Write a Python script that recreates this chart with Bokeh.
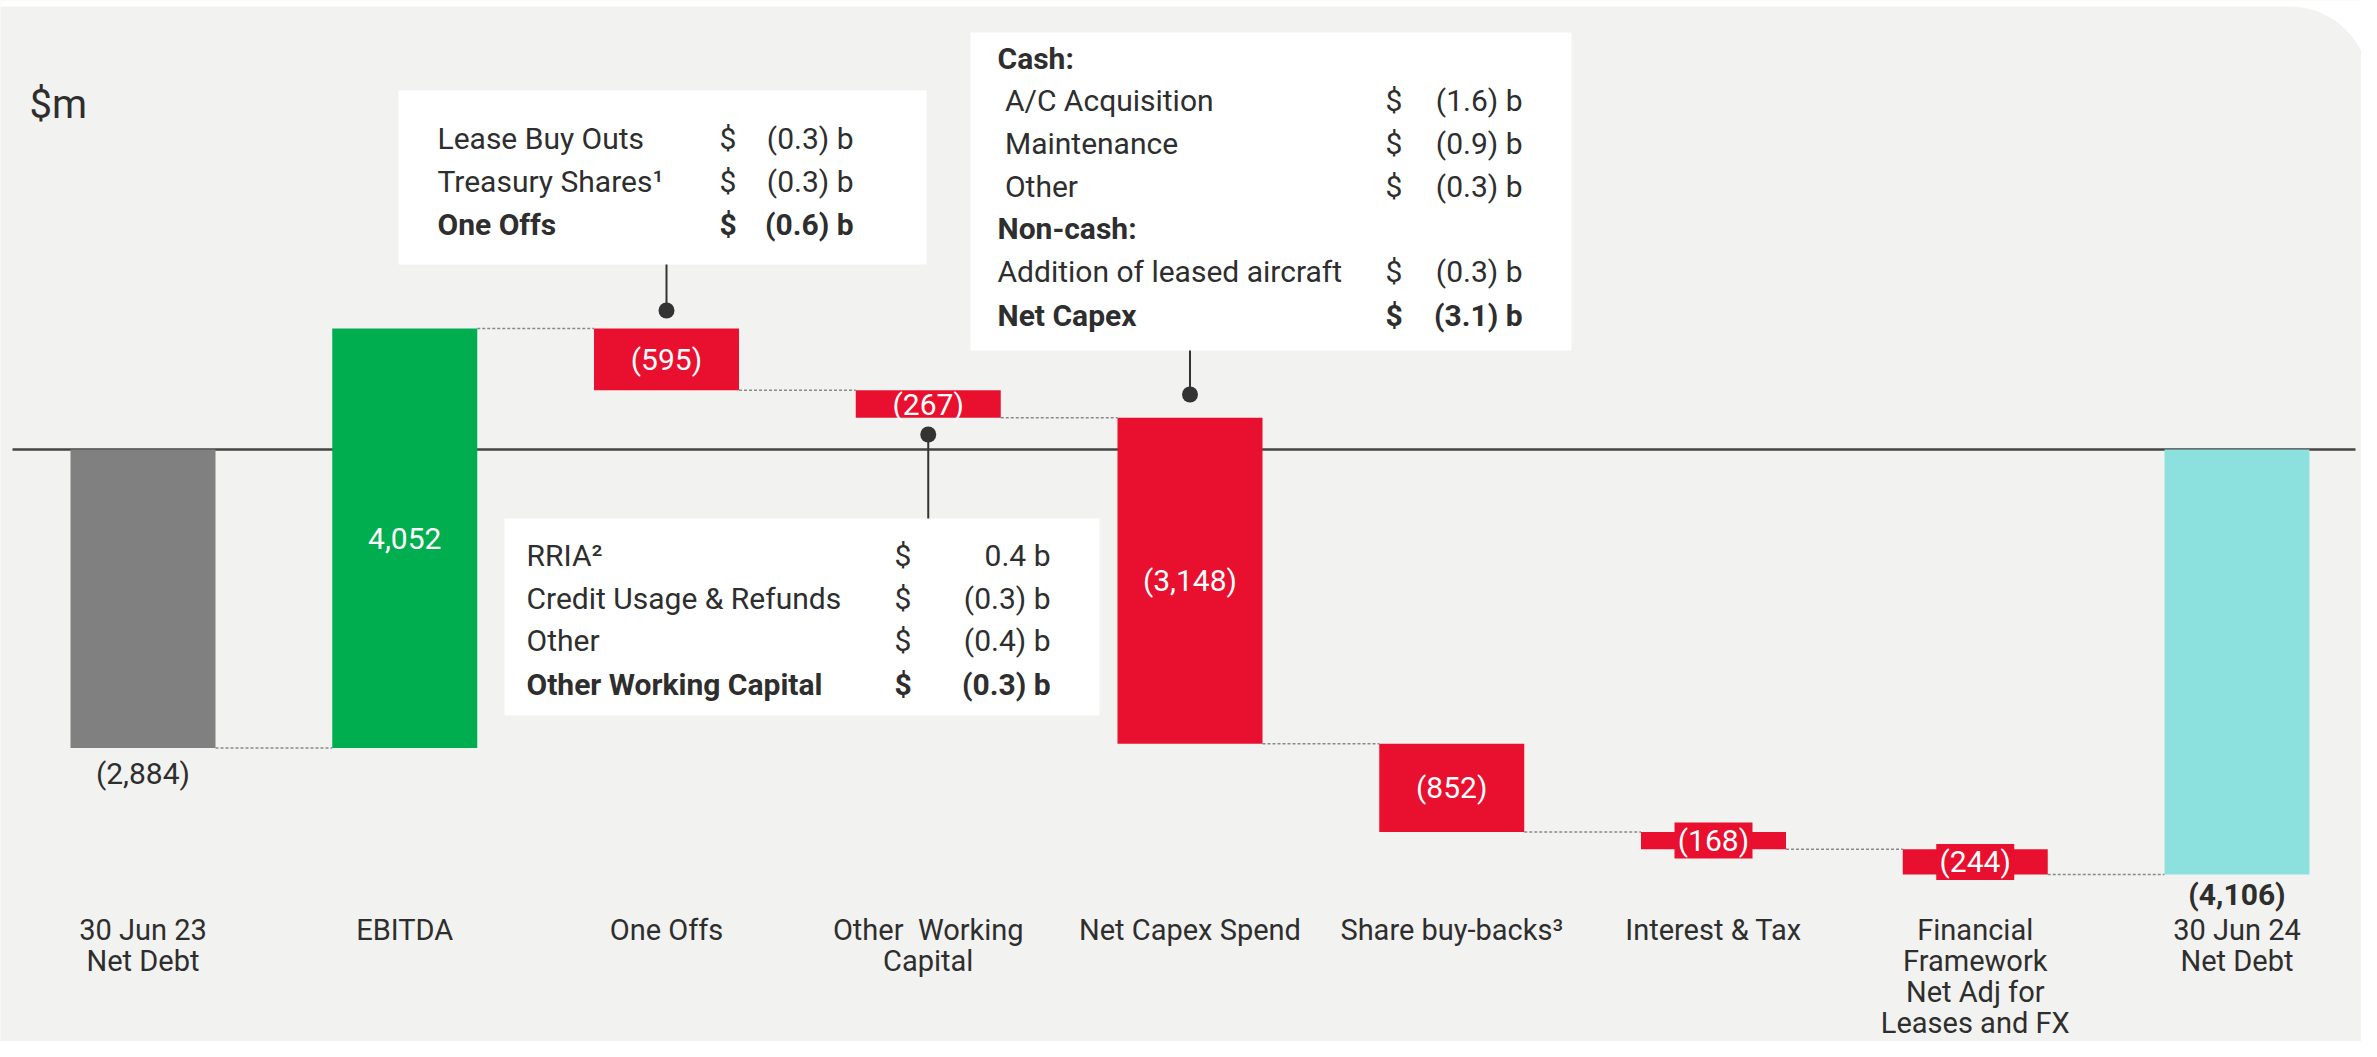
import math
from bokeh.plotting import figure
from bokeh.models import Range1d
from bokeh.core.properties import value
from bokeh.embed import file_html
from bokeh.resources import INLINE

# ---------------- data ----------------
categories = [
    ["30 Jun 23", "Net Debt"],
    ["EBITDA"],
    ["One Offs"],
    ["Other\u00a0 Working", "Capital"],
    ["Net Capex Spend"],
    ["Share buy-backs\u00b3"],
    ["Interest & Tax"],
    ["Financial", "Framework", "Net Adj for", "Leases and FX"],
    ["30 Jun 24", "Net Debt"],
]
values = [-2884, 4052, -595, -267, -3148, -852, -168, -244, -4106]
value_labels = ["(2,884)", "4,052", "(595)", "(267)", "(3,148)", "(852)", "(168)", "(244)", "(4,106)"]
kinds = ["total", "up", "down", "down", "down", "down", "down", "down", "total"]

oneoffs_items = ["Lease Buy Outs", "Treasury Shares\u00b9", "One Offs"]
oneoffs_vals = ["(0.3) b", "(0.3) b", "(0.6) b"]
capex_items = ["Cash:", "\u00a0A/C Acquisition", "\u00a0Maintenance", "\u00a0Other", "Non-cash:",
               "Addition of leased aircraft", "Net Capex"]
capex_vals = ["", "(1.6) b", "(0.9) b", "(0.3) b", "", "(0.3) b", "(3.1) b"]
capex_bold = [True, False, False, False, True, False, True]
owc_items = ["RRIA\u00b2", "Credit Usage & Refunds", "Other", "Other Working Capital"]
owc_vals = ["0.4 b", "(0.3) b", "(0.4) b", "(0.3) b"]

# ---------------- styling / layout ----------------
BG = "#F2F2F0"
TXT = "#2E2E2E"
COL = {"total_start": "#808080", "up": "#00AE4F", "down": "#E8102E", "total_end": "#8CE1DF"}
FONT = value("Roboto")
FS = "30px"

FW, FH = 2361, 1041
M = 9.66        # $m per pixel (vertical)
PXU = 261.75    # pixels per category (horizontal)
W = 145 / PXU   # bar width


def X(px):  # pixel -> x data
    return (px - 142.5) / PXU


def Y(py):  # pixel -> y data
    return (449 - py) * M


p = figure(width=FW, height=FH, output_backend="svg", toolbar_location=None,
           x_range=Range1d(X(0), X(FW)), y_range=Range1d(Y(FH), Y(0)),
           min_border=0, background_fill_color=BG, border_fill_color=BG)
p.axis.visible = False
p.grid.visible = False
p.outline_line_color = None

# white strip at top and rounded top-right corner
p.quad(left=[X(0)], right=[X(FW)], top=[Y(0)], bottom=[Y(6)], fill_color="white", line_color=None)
R = 80
ccx, ccy = FW + 8 - R, 6 + R
pts = [(ccx + R * math.cos(math.radians(a)), ccy - R * math.sin(math.radians(a))) for a in range(90, -1, -5)]
px_ = [ccx, ccx] + [q[0] for q in pts] + [FW + 8, FW + 8]
py_ = [0, 6] + [q[1] for q in pts] + [ccy, 0]
p.patch([X(v) for v in px_], [Y(v) for v in py_], fill_color="white", line_color=None)

# zero line
p.segment(x0=[X(12)], x1=[X(2355)], y0=[0], y1=[0], line_color="#444444", line_width=2.5)

# compute bar extents
bottoms, tops, colors, levels = [], [], [], []
run = 0
for i, (v, k) in enumerate(zip(values, kinds)):
    if k == "total":
        b, t = min(0, v), max(0, v)
        run = v
        colors.append(COL["total_start"] if i == 0 else COL["total_end"])
    else:
        start, run = run, run + v
        b, t = min(start, run), max(start, run)
        colors.append(COL[k])
    bottoms.append(b)
    tops.append(t)
    levels.append(run)

xs = list(range(len(values)))

# dashed connectors
cx0 = [i + W / 2 for i in xs[:-1]]
cx1 = [i + 1 - W / 2 for i in xs[:-1]]
p.segment(x0=cx0, x1=cx1, y0=levels[:-1], y1=levels[:-1], line_color="#8A8A8A",
          line_width=1.5, line_dash="3 2")

# bars
p.quad(left=[i - W / 2 for i in xs], right=[i + W / 2 for i in xs], bottom=bottoms, top=tops,
       fill_color=colors, line_color=None)

# value labels
total_offsets = {0: 25, len(values) - 1: 20}
for i, (v, k, lab) in enumerate(zip(values, kinds, value_labels)):
    if k == "total":
        p.text(x=[i], y=[bottoms[i] - total_offsets[i] * M], text=[lab], text_font=FONT, text_font_size=FS,
               text_color=TXT, text_align="center", text_baseline="middle",
               text_font_style="bold" if i == len(values) - 1 else "normal")
    else:
        mid = (bottoms[i] + tops[i]) / 2
        if abs(v) / M < 26:
            p.rect(x=[i], y=[mid], width=78, height=36, width_units="screen", height_units="screen",
                   fill_color=COL["down"], line_color=None)
        p.text(x=[i], y=[mid], text=[lab], text_font=FONT, text_font_size=FS,
               text_color="white", text_align="center", text_baseline="middle")

# category labels
for i, lines in enumerate(categories):
    for j, ln in enumerate(lines):
        p.text(x=[i], y=[Y(929 + 31 * j)], text=[ln], text_font=FONT, text_font_size="29px",
               text_color=TXT, text_align="center", text_baseline="middle")

# unit label
p.text(x=[X(29)], y=[Y(104)], text=["$m"], text_font=FONT, text_font_size="40px",
       text_color=TXT, text_align="left", text_baseline="middle")


def callout(box, rows, items, vals, bolds, col_item, col_dollar, col_val, val_align,
            bar_i, dot_py, line_py):
    l, t, r, b = box
    p.quad(left=[X(l)], right=[X(r)], top=[Y(t)], bottom=[Y(b)], fill_color="white", line_color=None)
    for ry, it, vv, bd in zip(rows, items, vals, bolds):
        st = "bold" if bd else "normal"
        p.text(x=[X(col_item)], y=[Y(ry)], text=[it], text_font=FONT, text_font_size=FS,
               text_color=TXT, text_align="left", text_baseline="middle", text_font_style=st)
        if vv:
            p.text(x=[X(col_dollar)], y=[Y(ry)], text=["$"], text_font=FONT, text_font_size=FS,
                   text_color=TXT, text_align="left", text_baseline="middle", text_font_style=st)
            p.text(x=[X(col_val)], y=[Y(ry)], text=[vv], text_font=FONT, text_font_size=FS,
                   text_color=TXT, text_align=val_align, text_baseline="middle", text_font_style=st)
    p.segment(x0=[bar_i], x1=[bar_i], y0=[Y(dot_py)], y1=[Y(line_py)], line_color="#333333", line_width=2)
    p.scatter(x=[bar_i], y=[Y(dot_py)], size=16, fill_color="#333333", line_color=None)


callout((398, 90, 926, 264), [138, 181, 224], oneoffs_items, oneoffs_vals,
        [False, False, True], 437, 719, 853, "right", 2, 310, 264)
callout((970, 32, 1571, 350), [58, 100, 143, 186, 228, 271, 315], capex_items, capex_vals,
        capex_bold, 997, 1385, 1522, "right", 4, 394, 350)
callout((504, 518, 1099, 715), [555, 598, 640, 684], owc_items, owc_vals,
        [False, False, False, True], 526, 894, 1050, "right", 3, 434, 518)

open("out.html", "w").write(file_html(p, INLINE))
